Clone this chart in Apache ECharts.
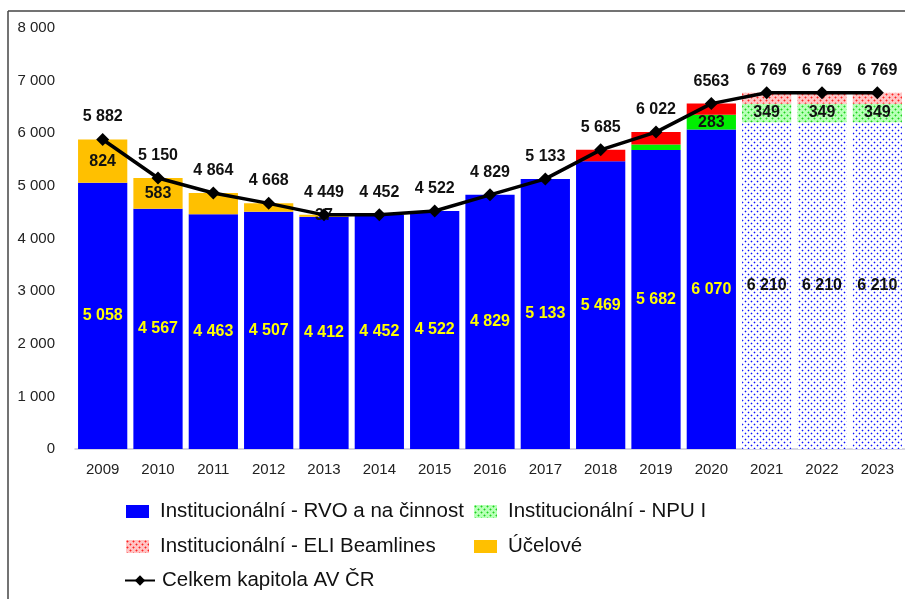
<!DOCTYPE html>
<html>
<head>
<meta charset="utf-8">
<script src="https://cdn.jsdelivr.net/npm/echarts@6/dist/echarts.min.js"></script>
<style>
  html, body { margin: 0; padding: 0; background: #fff; }
  #chart { width: 905px; height: 599px; }
</style>
</head>
<body>
<div id="chart"></div>
<script>
// data
var years = ['2009', '2010', '2011', '2012', '2013', '2014', '2015', '2016', '2017', '2018', '2019', '2020', '2021', '2022', '2023'];
var rvo = [5058, 4567, 4463, 4507, 4412, 4452, 4522, 4829, 5133, 5469, 5682, 6070, 6210, 6210, 6210];
var ucelove = [824, 583, 401, 161, 37, 0, 0, 0, 0, 0, 0, 0, 0, 0, 0];
var npu = [0, 0, 0, 0, 0, 0, 0, 0, 0, 0, 105, 283, 349, 349, 349];
var eli = [0, 0, 0, 0, 0, 0, 0, 0, 0, 216, 235, 210, 210, 210, 210];
var celkem = [5882, 5150, 4864, 4668, 4449, 4452, 4522, 4829, 5133, 5685, 6022, 6563, 6769, 6769, 6769];
var uceloveShown = [0, 1, 4];   // které popisky účelových jsou vidět
var planFrom = 12;              // 2021+ = plán (tečkované)

var names = {
  rvo: 'Institucionální - RVO a na činnost',
  npu: 'Institucionální - NPU I',
  eli: 'Institucionální - ELI Beamlines',
  ucel: 'Účelové',
  total: 'Celkem kapitola AV ČR'
};

// tečkovaný vzor (6x6 dlaždice)
function pattern(bg, fg, light) {
  var c = document.createElement('canvas');
  c.width = 6; c.height = 6;
  var ctx = c.getContext('2d');
  ctx.fillStyle = bg;
  ctx.fillRect(0, 0, 6, 6);
  ctx.fillStyle = light;
  [[1, 0], [0, 1], [2, 1], [1, 2], [4, 3], [3, 4], [5, 4], [4, 5]].forEach(function (p) {
    ctx.fillRect(p[0], p[1], 1, 1);
  });
  ctx.fillStyle = fg;
  ctx.fillRect(1, 1, 1, 1);
  ctx.fillRect(4, 4, 1, 1);
  return {image: c, repeat: 'repeat'};
}
var bluePat = pattern('#ffffff', '#1010ff', '#b8bcff');
var greenPat = pattern('#b8ffb8', '#22cc22', '#70f070');
var redPat = pattern('#ffc4c4', '#ff2222', '#ff7a7a');

function fmt(v) {
  var s = String(v);
  return s.length > 3 ? s.slice(0, s.length - 3) + ' ' + s.slice(-3) : s;
}

var labelFont = {fontFamily: 'Liberation Sans, Arial', fontWeight: 'bold', fontSize: 16};

var rvoData = rvo.map(function (v, i) {
  var plan = i >= planFrom;
  return {
    value: v,
    itemStyle: plan ? {color: bluePat} : {},
    label: {color: plan ? '#111' : '#ffff00'}
  };
});
var ucelData = ucelove.map(function (v, i) {
  return {value: v, label: {show: uceloveShown.indexOf(i) >= 0}};
});
var npuData = npu.map(function (v, i) {
  return {
    value: v,
    itemStyle: i >= planFrom ? {} : {color: '#00ee00'},
    label: {show: v > 200}
  };
});
var eliData = eli.map(function (v, i) {
  return {value: v, itemStyle: i >= planFrom ? {} : {color: '#ff0000'}};
});

var chart = echarts.init(document.getElementById('chart'));

function legendAt(name, left, top, extra) {
  return Object.assign({
    data: [name],
    left: left,
    top: top,
    icon: 'rect',
    itemWidth: 23,
    itemHeight: 13,
    itemGap: 0,
    selectedMode: false,
    textStyle: {fontFamily: 'Liberation Sans, Arial', fontSize: 20.5, color: '#111', padding: [0, 0, 0, 6]}
  }, extra || {});
}

var option = {
  backgroundColor: '#fff',
  animation: false,
  grid: {left: 75, right: 0, top: 28, bottom: 150},
  graphic: [
    {type: 'line', shape: {x1: 8, y1: 11, x2: 905, y2: 11}, style: {stroke: '#444', lineWidth: 1.5}},
    {type: 'line', shape: {x1: 8, y1: 11, x2: 8, y2: 599}, style: {stroke: '#444', lineWidth: 1.5}}
  ],
  legend: [
    legendAt(names.rvo, 121, 496),
    legendAt(names.npu, 469, 496),
    legendAt(names.eli, 121, 531),
    legendAt(names.ucel, 469, 531),
    legendAt(names.total, 119, 565, {icon: null, itemWidth: 30, textStyle: {fontFamily: 'Liberation Sans, Arial', fontSize: 20.5, color: '#111', padding: [0, 0, 0, 2]}})
  ],
  xAxis: {
    type: 'category',
    data: years,
    axisLine: {lineStyle: {color: '#c8c8d8', width: 1.5}},
    axisTick: {show: false},
    axisLabel: {fontFamily: 'Liberation Sans, Arial', fontSize: 15, color: '#222', margin: 13}
  },
  yAxis: {
    type: 'value',
    min: 0,
    max: 8000,
    interval: 1000,
    splitLine: {show: false},
    axisLine: {show: false},
    axisTick: {show: false},
    axisLabel: {fontFamily: 'Liberation Sans, Arial', fontSize: 15, color: '#222', margin: 20, formatter: fmt}
  },
  series: [
    {
      name: names.rvo, type: 'bar', stack: 'a', barCategoryGap: '11%',
      itemStyle: {color: '#0000ff'},
      label: Object.assign({show: true, position: 'inside', formatter: function (p) { return fmt(p.value); }}, labelFont),
      data: rvoData
    },
    {
      name: names.ucel, type: 'bar', stack: 'a',
      itemStyle: {color: '#ffc000'},
      label: Object.assign({show: true, position: 'inside', color: '#111'}, labelFont),
      data: ucelData
    },
    {
      name: names.npu, type: 'bar', stack: 'a',
      itemStyle: {color: greenPat},
      label: Object.assign({show: true, position: 'inside', color: '#111'}, labelFont),
      data: npuData
    },
    {
      name: names.eli, type: 'bar', stack: 'a',
      itemStyle: {color: redPat},
      data: eliData
    },
    {
      name: names.total, type: 'line', z: 5,
      symbol: 'diamond', symbolSize: 13,
      itemStyle: {color: '#000'},
      lineStyle: {color: '#000', width: 3.5},
      label: Object.assign({
        show: true, position: 'top', distance: 8, color: '#111',
        formatter: function (p) { return p.dataIndex === 11 ? String(p.value) : fmt(p.value); }
      }, labelFont),
      data: celkem
    }
  ]
};
chart.setOption(option);
</script>
</body>
</html>
